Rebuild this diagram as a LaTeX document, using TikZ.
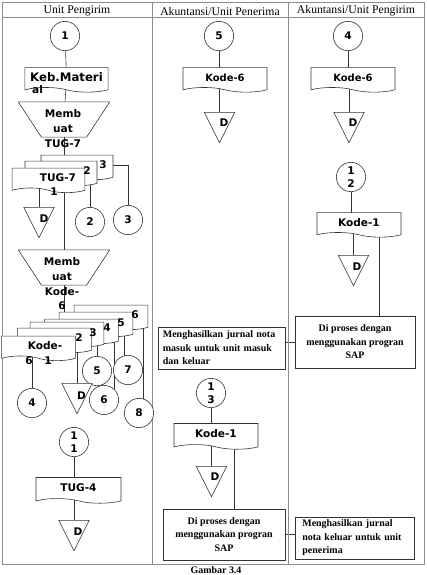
\documentclass[tikz,border=0pt]{standalone}
\usepackage{fontspec}
\setmainfont{Liberation Serif}
\newfontfamily\flowsans{DejaVu Sans}
\usetikzlibrary{shapes.geometric,shapes.symbols,backgrounds}

\tikzset{
  lane/.style={draw=black!45, line width=0.8pt},
  lanehead/.style={font=\fontsize{10}{12}\selectfont, inner sep=0pt},
  lbl/.style={font=\flowsans\bfseries\fontsize{9}{11}\selectfont, inner sep=0pt},
  smalllbl/.style={font=\flowsans\bfseries\fontsize{8.5}{10}\selectfont},
  flow/.style={draw=black!80, line width=0.5pt},
  docu/.style={tape, tape bend top=none, tape bend bottom=out and in, tape bend height=4pt,
    draw=black!80, fill=white, line width=0.5pt, inner sep=1pt,
    minimum width=#1, minimum height=21pt, lbl},
  conn/.style={circle, draw=black!80, fill=white, line width=0.5pt, inner sep=0pt,
    minimum size=25pt, lbl, align=center},
  manual/.style={trapezium, trapezium stretches=true, shape border rotate=180,
    trapezium left angle=63, trapezium right angle=63, draw=black!80, fill=white,
    line width=0.5pt, minimum width=78pt, minimum height=30pt, inner sep=2pt},
  store/.style={isosceles triangle, isosceles triangle stretches=true, shape border rotate=270,
    draw=black!80, fill=white, line width=0.5pt, minimum width=26pt, minimum height=26pt,
    inner sep=1pt, anchor=north},
  note/.style={rectangle, draw=black!80, fill=white, line width=0.5pt, inner sep=0pt,
    font=\bfseries\fontsize{8.5}{11.5}\selectfont},
  manualtext/.style={lbl, align=center, font=\flowsans\bfseries\fontsize{9}{12.5}\selectfont},
}

\begin{document}
\begin{tikzpicture}[x=0.03cm, y=-0.03cm]
\useasboundingbox (0,0) rectangle (427,575);

% swimlanes
\draw[lane] (2,2) rectangle (424,564);
\draw[lane] (2,17) -- (424,17);
\draw[lane] (152,2) -- (152,564);
\draw[lane] (288,2) -- (288,564);
\node[lanehead] (hd1) at (77,11) {Unit Pengirim};
\node[lanehead] (hd2) at (220,11) {Akuntansi/Unit Penerima};
\node[lanehead] (hd3) at (356,11) {Akuntansi/Unit Pengirim};

% Unit Pengirim
\node[conn] (c1) at (65,36) {1};
\node[docu=71pt, font=\flowsans\bfseries\fontsize{10}{12}\selectfont] (keb) at (66.5,77.5) {Keb.Materi};
\node[lbl] (kebb) at (37.5,90) {al};
\node[manual] (mk1) at (64,119.5) {};
\node[manualtext] (mk1t) at (63,128.5) {Memb\\uat\\TUG-7};

\node[docu=61.5pt] (t3) at (77,165) {};
\node[docu=61.5pt] (t2) at (61,171) {};
\node[docu=62pt] (t1) at (48.5,178) {};
\node[lbl] (t3n) at (103,165) {3};
\node[lbl] (t2n) at (87,171) {2};
\node[lbl] (t1t) at (58,178) {TUG-7};
\node[lbl] (t1n) at (54,192) {1};

\node[store] (dT) at (39,207) {};
\node[lbl] (dTt) at (44,219) {D};
\node[conn] (c2) at (90,222) {2};
\node[conn] (c3) at (128,220) {3};

\node[manual] (mk2) at (64,267.5) {};
\node[manualtext] (mk2t) at (62,284) {Memb\\uat\\Kode-\\6};

\node[docu=63pt] (k6) at (111,315) {};
\node[docu=63pt] (k5) at (96,322) {};
\node[docu=63pt] (k4) at (81.5,329) {};
\node[docu=63pt] (k3) at (67,332) {};
\node[docu=63pt] (k2) at (54.5,338) {};
\node[docu=63pt] (k1) at (38.5,346) {};
\node[lbl] (k6n) at (135,315) {6};
\node[lbl] (k5n) at (121,323) {5};
\node[lbl] (k4n) at (107,328) {4};
\node[lbl] (k3n) at (93,333) {3};
\node[lbl] (k2n) at (79,338) {2};
\node[lbl] (k1t) at (45,346) {Kode-};
\node[lbl] (k1s) at (29,361) {6};
\node[lbl] (k1n) at (48,361) {1};

\node[conn] (c5) at (97,371) {5};
\node[conn] (c7) at (128,370) {7};
\node[conn] (c6) at (104,400) {6};
\node[conn] (c8) at (139,413) {8};
\node[conn] (c4) at (32,403) {4};
\node[store] (dK) at (77,383) {};
\node[lbl] (dKt) at (81.5,395.5) {D};

\node[conn] (c11) at (74,442) {1\\1};
\node[docu=72.6pt, minimum height=22pt] (tug4) at (78.5,488) {TUG-4};
\node[store] (dT4) at (74,520) {};
\node[lbl] (dT4t) at (78,532) {D};

% Akuntansi/Unit Penerima
\node[conn] (c5b) at (219,36) {5};
\node[docu=71.7pt, smalllbl] (kode6b) at (225,77.5) {Kode-6};
\node[store] (dB) at (219.5,112) {};
\node[lbl] (dBt) at (224,123) {D};
\node[note, minimum width=108.4pt, minimum height=35.9pt, text width=100pt, align=left] (noteA) at (221.5,348)
  {Menghasilkan jurnal nota\\masuk untuk unit masuk\\dan keluar};
\node[conn] (c13) at (211,393) {1\\3};
\node[docu=71.7pt, minimum height=22pt] (kode1b) at (216,434) {Kode-1};
\node[store] (dB2) at (211.5,466) {};
\node[lbl] (dB2t) at (215,477) {D};
\node[note, minimum width=104pt, minimum height=43.5pt, align=center] (sapA) at (224,534.5)
  {Di proses dengan\\menggunakan progran\\SAP};

% Akuntansi/Unit Pengirim
\node[conn] (c4c) at (348,36) {4};
\node[docu=71.7pt, smalllbl] (kode6c) at (353,77.5) {Kode-6};
\node[store] (dC) at (349,112) {};
\node[lbl] (dCt) at (353,123) {D};
\node[conn] (c12) at (351,177) {1\\2};
\node[docu=71.7pt] (kode1c) at (359,222.5) {Kode-1};
\node[store] (dC2) at (353.5,255) {};
\node[lbl] (dC2t) at (357,267) {D};
\node[note, minimum width=102.4pt, minimum height=44.4pt, align=center] (sapB) at (355,342)
  {Di proses dengan\\menggunakan progran\\SAP};
\node[note, minimum width=101.6pt, minimum height=35.9pt, text width=89pt, align=left] (noteB) at (354.5,538)
  {Menghasilkan jurnal\\nota keluar untuk unit\\penerima};

\node[font=\bfseries\fontsize{8.5}{10}\selectfont, anchor=north, inner sep=0pt] (cap) at (216,566.5) {Gambar 3.4};

% connectors
\begin{scope}[on background layer]
\draw[flow] (c1) -- (keb);
\draw[flow] (keb) -- (mk1);
\draw[flow] (mk1) -- (mk2);
\draw[flow] (t3) -| (c3);
\draw[flow] (c2) -- (c2 |- t2.center);
\draw[flow] (dT) -- (dT |- t1.center);
\draw[flow] (mk2) -- (mk2 |- k1.center);
\draw[flow] (c8.75) -- (c8.75 |- k6.center);
\draw[flow] (c7.106) -- (c7.106 |- k5.center);
\draw[flow] (c6.47) -- (c6.47 |- k4.center);
\draw[flow] (c5) -- (c5 |- k3.center);
\draw[flow] (dK) -- (dK |- k2.center);
\draw[flow] (c4) -- (c4 |- k1.center);
\draw[flow] (c11) -- (c11 |- tug4.center);
\draw[flow] (dT4) -- (dT4 |- tug4.center);
\draw[flow] (c5b) -- (c5b |- kode6b.center);
\draw[flow] (dB) -- (dB |- kode6b.center);
\draw[flow] (c13) -- (c13 |- kode1b.center);
\draw[flow] (dB2) -- (dB2 |- kode1b.center);
\draw[flow] ([xshift=16pt]kode1b.center) -- ([xshift=16pt]kode1b.center |- sapA.north);
\draw[flow] (c4c) -- (c4c |- kode6c.center);
\draw[flow] (dC) -- (dC |- kode6c.center);
\draw[flow] (c12) -- (c12 |- kode1c.center);
\draw[flow] (dC2) -- (dC2 |- kode1c.center);
\draw[flow] ([xshift=17pt]kode1c.center) -- ([xshift=17pt]kode1c.center |- sapB.north);
\draw[flow] (sapB.west) -- (sapB.west -| noteA.east);
\draw[flow] (sapA.east) -- (sapA.east -| noteB.west);
\end{scope}
\end{tikzpicture}
\end{document}
